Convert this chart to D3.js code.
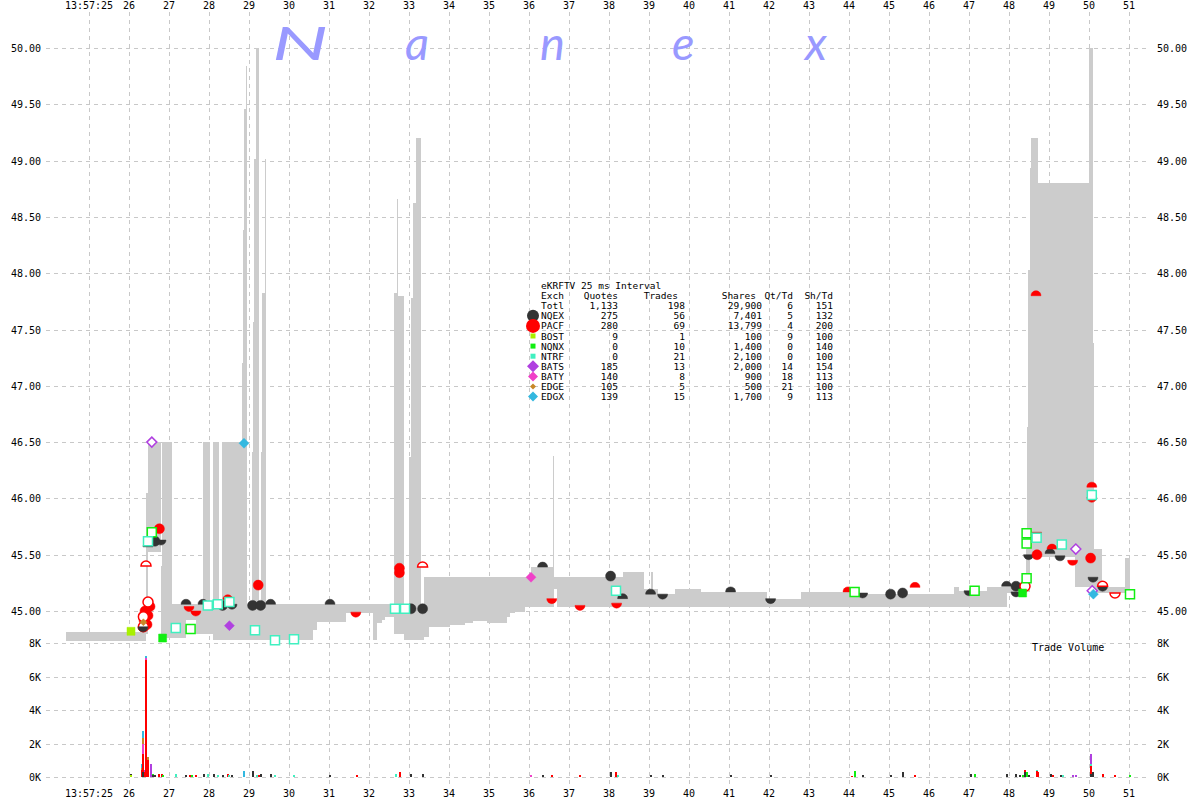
<!DOCTYPE html>
<html><head><meta charset="utf-8">
<script src="https://cdn.jsdelivr.net/npm/d3@7"></script>
<style>
body{margin:0;background:#fff}
svg{display:block}
text{font-family:"DejaVu Sans Mono",monospace;font-size:10px;fill:#000}
</style>
</head><body>
<svg id="chart" width="1200" height="800"></svg>
<script>
// ---------- DATA ----------
// time = seconds after 13:57:00
const timeTicks = d3.range(25, 52);
const timeTickLabels = timeTicks.map(s => s === 25 ? "13:57:25" : String(s));
const priceTicks = [45.00, 45.50, 46.00, 46.50, 47.00, 47.50, 48.00, 48.50, 49.00, 49.50, 50.00];
const volTicks = [0, 2000, 4000, 6000, 8000];
const volTickLabels = ["0K", "2K", "4K", "6K", "8K"];

// NBBO band (step after)
const bandTime = [24.425,26.425,26.475,26.80,26.825,27.075,27.425,27.675,27.85,28.025,28.10,28.25,28.325,28.825,28.85,28.88,28.92,28.95,29.075,29.11,29.13,29.18,29.24,29.30,29.33,29.40,29.42,30.60,30.70,31.425,32.10,32.20,32.325,32.40,32.625,32.70,32.735,32.875,33.00,33.05,33.10,33.175,33.30,33.375,33.50,34.025,34.40,34.60,34.95,35.45,35.525,35.65,35.90,36.05,36.60,36.625,36.70,38.20,38.35,38.875,39.05,39.10,39.225,39.65,40.30,41.95,42.80,44.025,46.625,46.75,47.45,47.95,48.425,48.45,48.475,48.525,48.55,48.725,49.65,50.00,50.10,50.125,50.325,50.90,51.025];
const bandBid  = [44.73,44.80,45.52,44.80,44.76,44.76,44.92,44.80,44.80,44.80,44.74,44.74,44.74,44.74,44.74,44.74,44.74,44.74,44.74,44.74,44.74,44.74,44.74,44.74,44.74,44.74,44.74,44.83,44.90,44.98,44.74,44.89,44.92,44.95,44.80,44.80,44.80,44.74,44.74,44.74,44.74,44.74,44.74,44.77,44.86,44.88,44.89,44.91,44.89,44.95,44.98,44.99,45.04,45.04,45.04,45.20,45.04,45.04,45.04,45.04,45.04,45.04,45.04,45.04,45.04,45.04,45.04,45.04,45.04,45.04,45.04,45.16,45.16,45.17,45.17,45.48,45.48,45.48,45.21,45.21,45.16,45.16,45.16,45.16,45.16];
const bandAsk  = [44.81,46.05,46.50,45.40,46.50,45.06,45.06,45.06,46.50,45.06,46.50,45.06,46.50,47.20,48.38,49.46,49.84,45.06,46.41,47.57,49.01,50.00,45.06,46.41,47.82,49.01,45.06,45.06,45.06,45.06,45.06,45.06,45.06,45.06,47.82,48.66,47.80,45.06,46.37,47.78,48.62,49.20,45.06,45.30,45.30,45.30,45.30,45.30,45.30,45.30,45.30,45.30,45.30,45.39,46.38,45.30,45.30,45.30,45.35,45.20,45.35,45.20,45.15,45.20,45.17,45.11,45.17,45.15,45.21,45.18,45.21,45.21,45.55,46.63,48.03,48.93,49.20,48.80,48.80,50.00,47.38,45.55,45.21,45.47,45.47];

// exchanges
const exchanges  = ["NQEX","PACF","BOST","NQNX","NTRF","BATS","BATY","EDGE","EDGX"];
const exchColors = ["#333333","#ff0000","#a8f000","#11ee11","#40f0c0","#b040e0","#f040c8","#c88828","#33b8e0"];
const legendQuotes = [275,280,9,0,0,185,140,105,139];
const legendTrades = [56,69,1,10,21,13,8,5,15];
const legendShares = [7401,13799,100,1400,2100,2000,900,500,1700];
const legendQtTd   = [5,4,9,0,0,14,18,21,9];
const legendShTd   = [132,200,100,140,100,154,113,100,113];
const totalRow = ["Totl", 1133, 198, 29900, 6, 151];

// quote / trade markers: exchange, time, price, kind
const mkExch = ["NQEX","NQEX","NQEX","NQEX","NQEX","NQEX","NQEX","NQEX","NQEX","NQEX","NQEX","NQEX","NQEX","NQEX","NQEX","NQEX","NQEX","NQEX","NQEX","NQEX","NQEX","NQEX","NQEX","NQEX","NQEX","NQEX","NQEX","NQEX","NQEX","NQEX","NQEX","NQEX","NQEX",
 "PACF","PACF","PACF","PACF","PACF","PACF","PACF","PACF","PACF","PACF","PACF","PACF","PACF","PACF","PACF","PACF","PACF","PACF","PACF","PACF","PACF","PACF","PACF","PACF","PACF","PACF","PACF","PACF","PACF","PACF","PACF","PACF",
 "BOST","NQNX","NQNX","NQNX","NQNX","NQNX","NQNX","NQNX","NQNX","NQNX","NQNX",
 "NTRF","NTRF","NTRF","NTRF","NTRF","NTRF","NTRF","NTRF","NTRF","NTRF","NTRF","NTRF","NTRF","NTRF",
 "BATS","BATS","BATS","BATS","BATY","EDGE","EDGX","EDGX"];
const mkTime = [26.475,26.55,26.65,26.80,26.35,27.425,27.85,28.075,28.34,28.575,29.09,29.29,29.54,31.025,33.05,33.34,36.34,38.04,38.34,39.04,39.34,41.04,42.04,44.34,45.04,45.34,47.00,47.94,48.175,48.175,48.49,49.025,49.275,
 26.40,26.475,26.375,26.525,26.45,26.475,26.36,26.36,26.425,26.76,27.50,27.67,28.47,29.23,31.67,32.76,32.76,33.34,36.57,37.275,38.19,43.975,45.65,48.40,48.675,48.69,48.70,49.075,49.59,50.04,50.07,50.07,
 26.05,26.84,48.34,27.54,26.57,48.44,48.44,48.44,51.025,47.14,44.14,
 27.17,27.97,28.22,28.51,29.15,29.65,30.125,26.475,32.65,32.90,38.175,48.69,49.32,50.07,
 28.51,26.57,49.67,50.08,36.05,26.36,28.875,50.11];
const mkPrice = [45.57,45.60,45.62,45.63,44.86,45.06,45.06,45.06,45.05,45.06,45.05,45.05,45.06,45.06,45.02,45.02,45.39,45.31,45.11,45.15,45.15,45.17,45.11,45.16,45.15,45.16,45.18,45.22,45.22,45.17,45.50,45.51,45.49,
 45.00,44.96,44.92,45.04,44.88,45.08,44.95,44.86,45.40,45.73,45.04,45.00,45.10,45.23,44.99,45.38,45.34,45.39,45.11,45.05,45.07,45.17,45.21,45.22,47.80,45.70,45.50,45.55,45.45,45.47,46.10,46.01,
 44.82,44.76,45.16,44.84,45.70,45.29,45.69,45.60,45.15,45.18,45.17,
 44.85,45.05,45.06,45.08,44.83,44.74,44.75,45.62,45.02,45.02,45.18,45.65,45.59,46.03,
 44.87,46.50,45.55,45.18,45.30,44.90,46.49,45.15];
const mkKind = ["ask","ask","trade","bid","bid","ask","ask","bid","trade","bid","trade","trade","ask","ask","trade","trade","ask","trade","ask","ask","bid","ask","bid","bid","trade","trade","bid","ask","trade","bid","bid","ask","bid",
 "trade","trade","trade","trade","trade","tradeH","tradeH","tradeH","askH","trade","bid","bid","ask","trade","bid","trade","trade","askH","bid","bid","bid","ask","ask","tradeH","ask","bid","trade","ask","bid","trade","ask","bid",
 "sq","sq","sq","sqH","sqH","sqH","sqH","sqH","sqH","sqH","sqH",
 "sqH","sqH","sqH","sqH","sqH","sqH","sqH","sqH","sqH","sqH","sqH","sqH","sqH","sqH",
 "dia","diaH","diaH","diaH","dia","diaS","dia","dia"];
// late markers drawn after the others
const mkExch2  = ["NQEX","NQEX","PACF","PACF","NQEX"];
const mkTime2  = [50.10,50.34,50.34,50.65,26.35];
const mkPrice2 = [45.30,45.22,45.22,45.16,44.86];
const mkKind2  = ["bid","bid","askH","bidH","bid"];

// trade volume bars: time, exchange, shares
const volTime = [26.06,26.06,26.32,26.32,26.32,26.36,26.36,26.36,26.36,26.36,26.39,26.39,26.425,26.425,26.425,26.48,26.48,26.54,26.54,26.56,26.61,26.61,26.66,26.76,26.82,26.86,27.18,27.425,27.525,27.575,27.675,27.875,27.975,28.125,28.225,28.35,28.475,28.51,28.575,28.875,29.10,29.20,29.25,29.30,29.55,29.65,30.125,31.025,31.69,32.67,32.775,33.05,33.35,36.05,36.35,36.575,37.275,38.05,38.175,38.225,39.05,39.35,41.05,42.05,44.07,44.15,44.35,45.05,45.35,45.65,47.05,47.15,47.95,48.175,48.275,48.35,48.40,48.40,48.45,48.50,48.69,48.69,48.725,49.05,49.10,49.30,49.34,49.60,49.675,50.05,50.05,50.05,50.05,50.09,50.35,50.65,51.025];
const volExch = ["BOST","NQEX","PACF","EDGE","EDGX","NQEX","PACF","BATY","EDGE","EDGX","PACF","BATS","PACF","BATY","EDGX","PACF","EDGE","NQNX","NTRF","BATS","NQEX","NQNX","NQEX","PACF","PACF","NQNX","NTRF","NQEX","PACF","NQNX","PACF","NQEX","NTRF","NQEX","NTRF","NQEX","PACF","NTRF","NQEX","EDGX","NQEX","NTRF","PACF","NQEX","NQEX","NTRF","NTRF","NQEX","PACF","NTRF","PACF","NQEX","NQEX","BATY","NQEX","PACF","PACF","NQEX","PACF","NTRF","NQEX","NQEX","NQEX","NQEX","PACF","NQNX","NQEX","NQEX","NQEX","PACF","NQEX","NQNX","NQEX","NQEX","NQEX","NQNX","NQEX","PACF","NQNX","NQEX","PACF","NTRF","PACF","NQEX","PACF","NQEX","NTRF","BATS","BATS","NQEX","PACF","NTRF","BATS","NQEX","PACF","PACF","NQNX"];
const volShares = [100,100,400,150,200,300,1100,600,300,460,300,100,6960,140,140,1000,200,100,150,760,100,100,100,200,200,100,160,120,100,100,120,200,160,200,100,100,160,100,100,340,360,100,100,200,200,100,100,100,100,150,300,200,200,100,100,100,100,300,300,100,100,100,100,100,80,360,100,100,300,100,200,200,200,200,100,100,300,100,280,100,340,100,300,200,100,100,100,100,100,200,440,120,600,300,200,100,100];

const watermark = ["N","a","n","e","x"];
const watermarkX = [272,405,540,672,805];

// ---------- SCALES ----------
const svg = d3.select("#chart");
const x = d3.scaleLinear().domain([23.925, 51.525]).range([46, 1150]);
const y = d3.scaleLinear().domain([44.716, 50.00]).range([643, 48]);
const yv = d3.scaleLinear().domain([0, 8000]).range([777, 643]);
const color = d3.scaleOrdinal().domain(exchanges).range(exchColors);

// ---------- GRID ----------
const grid = svg.append("g").attr("stroke", "#c8c8c8").attr("stroke-dasharray", "4,4").attr("stroke-width", 1);
grid.selectAll(".vg").data(timeTicks).join("line")
  .attr("x1", d => Math.round(x(d)) + 0.5).attr("x2", d => Math.round(x(d)) + 0.5)
  .attr("y1", 12).attr("y2", 788);
grid.selectAll(".hg").data(priceTicks).join("line")
  .attr("x1", 46).attr("x2", 1150)
  .attr("y1", d => Math.round(y(d)) + 0.5).attr("y2", d => Math.round(y(d)) + 0.5);
grid.selectAll(".hv").data(volTicks).join("line")
  .attr("x1", 46).attr("x2", 1150)
  .attr("y1", d => Math.round(yv(d)) + 0.5).attr("y2", d => Math.round(yv(d)) + 0.5);

// ---------- WATERMARK ----------
svg.append("g").selectAll("text").data(watermark).join("text")
  .attr("x", (d, i) => watermarkX[i]).attr("y", 60)
  .style("font-family", "Lato, 'Liberation Sans', sans-serif")
  .style("font-style", "italic").style("font-weight", "400")
  .style("font-size", "47px").style("fill", "#9999ff")
  .attr("textLength", d => d === "N" ? 56 : null)
  .attr("lengthAdjust", "spacingAndGlyphs")
  .text(d => d);

// ---------- BAND ----------
const idx = d3.range(bandTime.length);
const area = d3.area()
  .x(i => x(bandTime[i]))
  .y0(i => y(bandBid[i]))
  .y1(i => y(bandAsk[i]))
  .curve(d3.curveStepAfter);
svg.append("path").datum(idx).attr("d", area)
  .attr("fill", "#cccccc").attr("shape-rendering", "crispEdges");

// ---------- MARKERS ----------
const R = 5;
function shapePath(kind) {
  switch (kind) {
    case "ask": case "askH": return `M${-R},0A${R},${R} 0 0 1 ${R},0Z`;
    case "bid": case "bidH": return `M${-R},0A${R},${R} 0 0 0 ${R},0Z`;
    case "trade": case "tradeH": return `M${-R},0A${R},${R} 0 1 1 ${R},0A${R},${R} 0 1 1 ${-R},0Z`;
    case "sq": return "M-4,-4H4V4H-4Z";
    case "sqH": return "M-4.5,-4.5H4.5V4.5H-4.5Z";
    case "dia": case "diaH": return "M0,-5L5,0L0,5L-5,0Z";
    case "diaS": return "M0,-3.5L3.5,0L0,3.5L-3.5,0Z";
  }
}
function drawMarkers(ex, tm, pr, kd) {
  const data = d3.range(ex.length);
  svg.append("g").selectAll("path").data(data).join("path")
    .attr("transform", i => `translate(${x(tm[i])},${y(pr[i])})`)
    .attr("d", i => shapePath(kd[i]))
    .attr("fill", i => /H$/.test(kd[i]) ? "#ffffff" : color(ex[i]))
    .attr("stroke", i => color(ex[i]))
    .attr("stroke-width", i => /H$/.test(kd[i]) ? 1.5 : 0.5);
}
drawMarkers(mkExch, mkTime, mkPrice, mkKind);
drawMarkers(mkExch2, mkTime2, mkPrice2, mkKind2);

// ---------- VOLUME ----------
const cum = new Map();
const vol = volTime.map((t, i) => {
  const base = cum.get(t) || 0;
  cum.set(t, base + volShares[i]);
  return {t, ex: volExch[i], y0: base, y1: base + volShares[i]};
});
svg.append("g").attr("shape-rendering", "crispEdges").selectAll("rect").data(vol).join("rect")
  .attr("x", d => Math.round(x(d.t)) - 1).attr("width", 2)
  .attr("y", d => yv(d.y1)).attr("height", d => yv(d.y0) - yv(d.y1))
  .attr("fill", d => color(d.ex));

// ---------- AXES LABELS ----------
const lab = svg.append("g");
lab.selectAll(".tt").data(timeTicks).join("text")
  .attr("x", d => x(d)).attr("y", 9).attr("text-anchor", "middle")
  .text((d, i) => timeTickLabels[i]);
lab.selectAll(".tb").data(timeTicks).join("text")
  .attr("x", d => x(d)).attr("y", 797).attr("text-anchor", "middle")
  .text((d, i) => timeTickLabels[i]);
const pf = d3.format(".2f");
lab.selectAll(".pl").data(priceTicks).join("text")
  .attr("x", 41).attr("y", d => y(d) + 4).attr("text-anchor", "end").text(pf);
lab.selectAll(".pr").data(priceTicks).join("text")
  .attr("x", 1157).attr("y", d => y(d) + 4).text(pf);
lab.selectAll(".vl").data(volTicks).join("text")
  .attr("x", 41).attr("y", d => yv(d) + 4).attr("text-anchor", "end").text((d, i) => volTickLabels[i]);
lab.selectAll(".vr").data(volTicks).join("text")
  .attr("x", 1157).attr("y", d => yv(d) + 4).text((d, i) => volTickLabels[i]);
lab.append("text").attr("x", 1032).attr("y", 651).text("Trade Volume");

// ---------- LEGEND ----------
const lg = svg.append("g").style("font-size", "9.5px");
const rowY = i => 289 + i * 10.1;
const fmt = d3.format(",");
const colRight = [618, 685, 762, 793, 833];
lg.append("text").attr("x", 541).attr("y", rowY(0)).style("font-size", "9.5px").text("eKRFTV 25 ms Interval");
lg.append("text").attr("x", 541).attr("y", rowY(1)).style("font-size", "9.5px").text("Exch");
["Quotes","Trades","Shares","Qt/Td","Sh/Td"].forEach((h, j) => {
  lg.append("text").attr("x", [618,678,756,793,833][j]).attr("y", rowY(1))
    .attr("text-anchor", "end").style("font-size", "9.5px").text(h);
});
lg.append("text").attr("x", 541).attr("y", rowY(2)).style("font-size", "9.5px").text(totalRow[0]);
totalRow.slice(1).forEach((v, j) => {
  lg.append("text").attr("x", colRight[j]).attr("y", rowY(2)).attr("text-anchor", "end")
    .style("font-size", "9.5px").text(fmt(v));
});
const legSym = ["c6","c7","s","s","s","d6","d5","d3","d5"];
exchanges.forEach((e, i) => {
  const ry = rowY(i + 3);
  const cy = ry - 3.5;
  const s = legSym[i];
  let p;
  if (s[0] === "c") { const r = +s.slice(1); p = `M${-r},0A${r},${r} 0 1 1 ${r},0A${r},${r} 0 1 1 ${-r},0Z`; }
  else if (s === "s") p = "M-2.5,-2.5H2.5V2.5H-2.5Z";
  else { const r = +s.slice(1); p = `M0,${-r}L${r},0L0,${r}L${-r},0Z`; }
  lg.append("path").attr("transform", `translate(533,${cy})`).attr("d", p).attr("fill", color(e));
  lg.append("text").attr("x", 541).attr("y", ry).style("font-size", "9.5px").text(e);
  [legendQuotes[i], legendTrades[i], legendShares[i], legendQtTd[i], legendShTd[i]].forEach((v, j) => {
    lg.append("text").attr("x", colRight[j]).attr("y", ry).attr("text-anchor", "end")
      .style("font-size", "9.5px").text(fmt(v));
  });
});
</script>
</body></html>
